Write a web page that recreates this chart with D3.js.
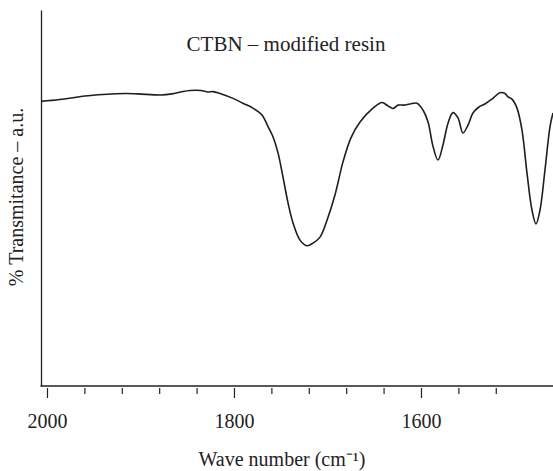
<!DOCTYPE html>
<html>
<head>
<meta charset="utf-8">
<script src="https://cdn.jsdelivr.net/npm/d3@7"></script>
<style>
  html, body { margin: 0; padding: 0; background: #fff; }
  text { font-family: "Liberation Serif", "Times New Roman", serif; fill: #222; }
</style>
</head>
<body>
<div id="chart"></div>
<script>
// wave numbers (cm^-1) and % transmittance (a.u.)
const waveNumbers = [
    2006.4, 1986.1, 1956.1, 1916.6, 1902.7, 1878.1, 1866.3, 1856.7, 1847.1, 1835.3,
    1827.8, 1822.5, 1815.0, 1801.1, 1790.4, 1779.7, 1770.1, 1763.6, 1758.3, 1752.9,
    1747.6, 1742.2, 1736.9, 1729.4, 1721.9, 1715.5, 1708.0, 1700.5, 1692.0, 1683.4,
    1674.9, 1665.2, 1651.3, 1641.7, 1635.3, 1629.9, 1624.6, 1618.2, 1611.8, 1604.3,
    1597.9, 1592.5, 1587.2, 1581.8, 1576.5, 1571.1, 1565.8, 1560.4, 1555.1, 1549.7,
    1544.4, 1538.0, 1531.6, 1524.1, 1515.5, 1510.2, 1507.0, 1502.7, 1497.3, 1492.0,
    1486.6, 1481.3, 1477.0, 1472.7, 1467.4, 1462.0, 1458.8
];
const transmittance = [
    75.7, 76.2, 77.2, 77.8, 77.7, 77.4, 77.7, 78.2, 78.6, 78.6,
    78.2, 78.3, 77.8, 76.5, 75.2, 73.9, 72.1, 69.0, 66.3, 62.0,
    55.6, 48.7, 43.4, 38.8, 37.3, 38.0, 39.6, 44.1, 50.8, 59.6,
    66.0, 70.2, 73.9, 75.4, 74.5, 73.8, 74.7, 74.7, 75.0, 75.2,
    73.4, 70.3, 63.8, 60.1, 64.1, 69.9, 72.7, 71.3, 67.3, 69.4,
    72.6, 74.2, 75.0, 76.3, 78.0, 77.8, 76.9, 76.3, 73.9, 68.1,
    56.6, 46.8, 43.1, 46.8, 57.4, 69.0, 72.6
];
const minorTicks = d3.range(2000, 1519, -40);
const majorTicks = [2000, 1800, 1600];

const title = 'CTBN \u2013 modified resin';
const xTitle = 'Wave number (cm\u207B\u00B9)';
const yTitle = '% Transmitance \u2013 a.u.';

const W = 553, H = 471;
const plotLeft = 41, plotRight = 553, plotTop = 10, plotBottom = 386;

const svg = d3.select('#chart').append('svg')
    .attr('width', W)
    .attr('height', H);

const x = d3.scaleLinear().domain([2006.4, 1458.8]).range([plotLeft, plotRight]);
const y = d3.scaleLinear().domain([0, 100]).range([plotBottom, plotTop]);

const data = waveNumbers.map((w, i) => ({ w: w, t: transmittance[i] }));

// axes
svg.append('g')
    .attr('transform', `translate(${plotLeft},0)`)
    .call(d3.axisLeft(y).tickValues([]).tickSizeOuter(0))
    .select('.domain').attr('stroke', '#222').attr('stroke-width', 1.3);

svg.append('line')
    .attr('x1', plotLeft - 0.5).attr('x2', plotRight)
    .attr('y1', plotBottom).attr('y2', plotBottom)
    .attr('stroke', '#222').attr('stroke-width', 1.3);

const minorG = svg.append('g')
    .attr('transform', `translate(0,${plotBottom + 2})`)
    .call(d3.axisBottom(x).tickValues(minorTicks.filter(d => !majorTicks.includes(d)))
        .tickSize(6).tickFormat(''));
minorG.select('.domain').remove();

const majorG = svg.append('g')
    .attr('transform', `translate(0,${plotBottom + 2})`)
    .call(d3.axisBottom(x).tickValues(majorTicks).tickSize(10).tickPadding(16)
        .tickFormat(d3.format('d')));
majorG.select('.domain').remove();
majorG.selectAll('text').style('font-size', '20px')
    .style('font-family', '"Liberation Serif", serif').attr('fill', '#222');

svg.selectAll('.tick line').attr('stroke', '#222').attr('stroke-width', 1.2);

// spectrum
svg.append('path')
    .datum(data)
    .attr('fill', 'none')
    .attr('stroke', '#1e1e1e')
    .attr('stroke-width', 1.6)
    .attr('stroke-linejoin', 'round')
    .attr('d', d3.line()
        .x(d => x(d.w))
        .y(d => y(d.t))
        .curve(d3.curveCatmullRom));

// labels
svg.append('text')
    .attr('x', 286).attr('y', 51)
    .attr('text-anchor', 'middle')
    .style('font-size', '21px')
    .text(title);

svg.append('text')
    .attr('x', 282).attr('y', 466)
    .attr('text-anchor', 'middle')
    .style('font-size', '20px')
    .text(xTitle);

svg.append('text')
    .attr('transform', 'translate(23,197) rotate(-90)')
    .attr('text-anchor', 'middle')
    .style('font-size', '20px')
    .text(yTitle);
</script>
</body>
</html>
